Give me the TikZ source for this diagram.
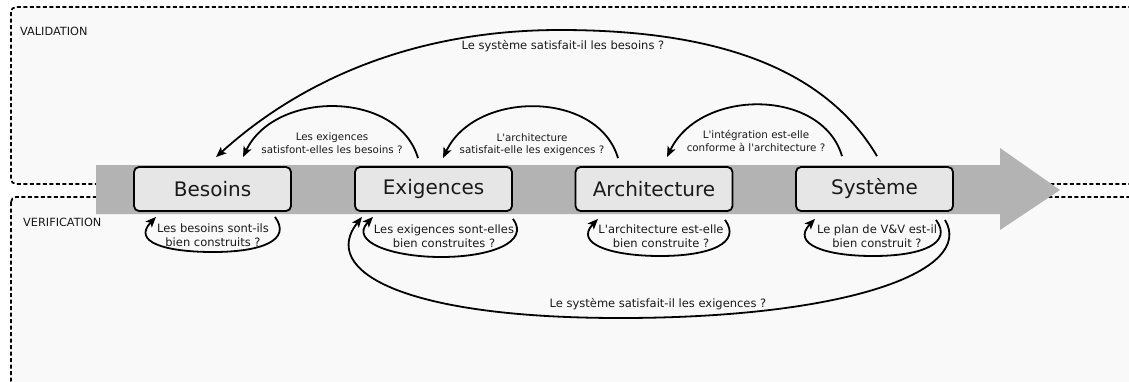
\documentclass[tikz,border=0pt]{standalone}
\usepackage{fontspec}
\newfontfamily\dejavu{DejaVu Sans}
\usetikzlibrary{calc,arrows.meta}
\definecolor{zonefill}{HTML}{F9F9F9}
\definecolor{bandgray}{HTML}{B3B3B3}
\definecolor{boxfill}{HTML}{E6E6E6}
\definecolor{inkc}{HTML}{1A1A1A}
\begin{document}
\begin{tikzpicture}[x=1pt,y=-1pt,
  zone/.style={draw=black, line width=1.7pt, dash pattern=on 4pt off 2.5pt, fill=zonefill, rounded corners=5pt},
  stage/.style={draw=black, line width=1.8pt, fill=boxfill, rounded corners=5pt, minimum width=157pt, minimum height=44pt, inner sep=0pt, font=\dejavu\fontsize{20}{24}\selectfont, text=inkc},
  conn/.style={line width=1.8pt, -{Stealth[length=10.5pt,width=8.5pt,inset=2.5pt]}},
  qsmall/.style={font=\dejavu\fontsize{10.3}{12.5}\selectfont, align=center, inner sep=0pt, text=inkc},
  qmid/.style={font=\dejavu\fontsize{11.5}{14.5}\selectfont, align=center, inner sep=0pt, text=inkc},
  zonelabel/.style={font=\dejavu\fontsize{11.3}{13}\selectfont, anchor=west, inner sep=0pt, text=inkc}]
\useasboundingbox (0,0) rectangle (1129,381);
\clip (0,0) rectangle (1129,381);
% zones
\draw[zone] (11,7) rectangle (1145,184);
\draw[zone] (11,197) rectangle (1145,386);
\node[zonelabel] (val) at (20,31) {VALIDATION};
\node[zonelabel] (ver) at (23,222) {VERIFICATION};
% big arrow
\fill[bandgray] (96,165) -- (1000,165) -- (1000,148) -- (1060,190) -- (1000,230) -- (1000,214) -- (96,214) -- cycle;
% stages
\node[stage] (bes) at (212.5,189) {Besoins};
\node[stage] (exig) at (433.5,189) {Exigences};
\node[stage] (arch) at (654,189) {Architecture};
\node[stage] (sys) at (874.5,189) {Système};
% validation arcs
\draw[conn] ($(exig.north)+(-15.5,-8)$) .. controls (398,90) and (275,90) .. ($(bes.north)+(30.5,-9)$);
\draw[conn] ($(arch.north)+(-36,-8)$) .. controls (598,90) and (475,90) .. ($(exig.north)+(9.5,-8)$);
\draw[conn] ($(sys.north)+(-32.5,-10)$) .. controls (822,88) and (700,88) .. ($(arch.north)+(13,-9)$);
\draw[conn] ($(sys.north)+(2.5,-10)$) .. controls (820,60) and (700,30) .. (560,30) .. controls (400,30) and (290,90) .. ($(bes.north)+(3.5,-9)$);
\node[qsmall] (q1) at (332,143) {Les exigences\\satisfont-elles les besoins ?};
\node[qsmall] (q2) at (532,144.5) {L'architecture\\satisfait-elle les exigences ?};
\node[qsmall] (q3) at (756,141) {L'intégration est-elle\\conforme à l'architecture ?};
\node[qmid] (q4) at (563,46) {Le système satisfait-il les besoins ?};
% verification loops
\draw[conn] ($(bes.south)+(62.5,5)$) .. controls (292,240) and (262,252) .. (213,252) .. controls (165,252) and (132,242) .. ($(bes.south)+(-56.5,5)$);
\draw[conn] ($(exig.south)+(79.5,7)$) .. controls (530,242) and (491,257) .. (441,257) .. controls (393,257) and (349,242) .. ($(exig.south)+(-60.5,5)$);
\draw[conn] ($(arch.south)+(71,8)$) .. controls (742,243) and (710,256) .. (660,256) .. controls (612,256) and (574,244) .. ($(arch.south)+(-56,7)$);
\draw[conn] ($(sys.south)+(61.5,8)$) .. controls (953,243) and (923,256) .. (873,256) .. controls (825,256) and (791,244) .. ($(sys.south)+(-59.5,7)$);
\draw[conn] ($(sys.south)+(70.5,8)$) .. controls (975,270) and (850,318) .. (620,318) .. controls (400,318) and (320,270) .. ($(exig.south)+(-71.5,5)$);
\node[qmid] (v1) at (213,235) {Les besoins sont-ils\\bien construits ?};
\node[qmid] (v2) at (444,236) {Les exigences sont-elles\\bien construites ?};
\node[qmid] (v3) at (661,236) {L'architecture est-elle\\bien construite ?};
\node[qmid] (v4) at (877,236) {Le plan de V\&V est-il\\bien construit ?};
\node[qmid] (v5) at (658,304) {Le système satisfait-il les exigences ?};
\end{tikzpicture}
\end{document}
